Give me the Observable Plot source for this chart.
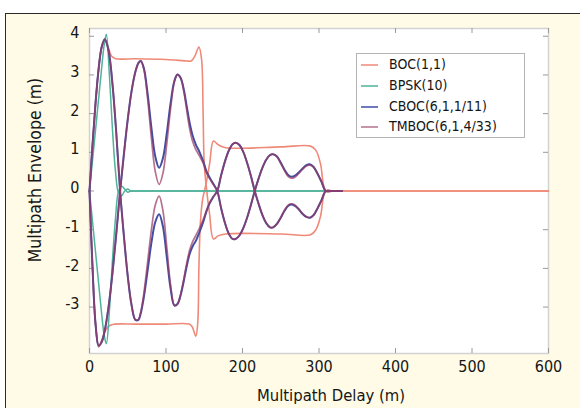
<!DOCTYPE html>
<html><head><meta charset="utf-8">
<script src="https://cdn.jsdelivr.net/npm/d3@7"></script>
<script src="https://cdn.jsdelivr.net/npm/@observablehq/plot@0.6"></script>
<style>
html,body{margin:0;padding:0;background:#fff;width:580px;height:408px;overflow:hidden;}
#panel{position:absolute;left:5px;top:13px;width:600px;height:420px;border:1.5px solid #2a2a2a;background:#fffbe7;box-sizing:border-box;}
#chart{position:absolute;left:0;top:0;}
#legend{position:absolute;left:356px;top:53px;width:169px;height:85px;box-sizing:border-box;border:1px solid #b4b4b4;background:#fff;font-family:"DejaVu Sans Condensed";font-size:14px;color:#151515;}
.row{position:absolute;left:3px;height:20px;line-height:20px;white-space:nowrap;}
.row svg{vertical-align:middle;margin-right:10px;}
</style></head>
<body>
<div id="panel"></div>
<div id="chart"></div>
<div id="legend"></div>
<script>
const seriesNames = ["BOC(1,1)", "BPSK(10)", "CBOC(6,1,1/11)", "TMBOC(6,1,4/33)"];
const seriesColors = ["#ef8a78", "#4fb39a", "#414ea3", "#9a3a62"];
const xTicks = [0, 100, 200, 300, 400, 500, 600];
const yTicks = [-3, -2, -1, 0, 1, 2, 3, 4];

// BOC(1,1)
const bocDelayA = [0,4,8,12,16,20,24,29,34,60,100,128,133,138,143,146.5,148.5,150,153,157,162,168,178,250,289,296,302,309,320,600];
const bocA      = [0,1.21,2.3,3.17,3.73,3.92,3.75,3.48,3.42,3.42,3.40,3.36,3.36,3.5,3.72,3.4,2.0,0.7,0.05,-0.6,-1.24,-1.16,-1.11,-1.11,-1.13,-1.0,-0.65,0,0,0];
const bocDelayB = [0,4,8,12,16,21,27,33,60,100,130,134,139,141.5,143,145,148,152,157,162,168,178,250,289,296,302,309,320,600];
const bocB      = [0,-2.0,-3.46,-4.03,-3.85,-3.6,-3.47,-3.44,-3.44,-3.44,-3.44,-3.5,-3.75,-3.4,-2.0,-0.8,-0.2,0.15,0.7,1.29,1.2,1.12,1.14,1.16,1.05,0.7,0,0,0];

// BPSK(10)
const bpskDelay = [0,4,8,12,16,19,22,26,30,34,38,42,46,50,54,60,315];
const bpskA     = [0,0.8,1.6,2.4,3.2,3.75,4.05,3.0,1.6,0.5,-0.05,-0.12,0,0.05,0,0,0];
const bpskB     = [0,-0.8,-1.6,-2.4,-3.2,-3.7,-3.95,-3.1,-1.8,-0.7,0,0.12,0.05,-0.03,0,0,0];

// CBOC / TMBOC (shared delays)
const dkDelay = [0,4,8,12,16,20,25,30,35,40,45,50,55,60,64,67,71,76,81,86,91,96,101,106,111,115,119,123,127,131,135,139,144,149,153,157,162,167,172,177,182,187,191,196,201,206,211,216,221,226,231,236,240,245,250,255,260,264,268,273,278,283,288,293,298,303,309,316,330];
const cbocA = [0,1.21,2.30,3.17,3.73,3.92,3.62,2.77,1.50,0,-1.17,-2.2,-2.95,-3.33,-3.33,-3.16,-2.75,-2.05,-1.33,-0.80,-0.6,-0.92,-1.70,-2.52,-2.96,-2.92,-2.7,-2.35,-1.95,-1.62,-1.42,-1.29,-1.05,-0.78,-0.52,-0.32,-0.15,0,0.40,0.76,1.04,1.21,1.25,1.19,1.01,0.73,0.39,0,-0.33,-0.62,-0.83,-0.94,-0.94,-0.85,-0.69,-0.51,-0.38,-0.35,-0.375,-0.46,-0.58,-0.665,-0.69,-0.62,-0.45,-0.25,0,0,0];
const cbocB = [0,-2.0,-3.46,-4.0,-3.9,-3.6,-2.98,-2.13,-1.11,0,0.96,1.85,2.58,3.08,3.31,3.36,3.18,2.51,1.62,0.89,0.6,0.85,1.49,2.27,2.85,3.01,2.93,2.65,2.2,1.75,1.42,1.2,1.0,0.75,0.5,0.35,0.18,0,-0.44,-0.82,-1.1,-1.24,-1.24,-1.15,-0.96,-0.69,-0.36,0,0.32,0.6,0.81,0.93,0.95,0.89,0.735,0.55,0.41,0.37,0.39,0.47,0.57,0.66,0.69,0.62,0.45,0.25,0,0,0];
const tmbocA = [0,1.21,2.30,3.17,3.73,3.92,3.62,2.77,1.50,0,-1.17,-2.2,-2.95,-3.33,-3.32,-3.13,-2.65,-1.83,-0.99,-0.36,-0.13,-0.51,-1.44,-2.43,-2.95,-2.92,-2.68,-2.3,-1.88,-1.52,-1.3,-1.15,-0.95,-0.72,-0.5,-0.3,-0.14,0,0.40,0.76,1.04,1.21,1.25,1.19,1.01,0.73,0.39,0,-0.33,-0.62,-0.83,-0.94,-0.94,-0.85,-0.69,-0.49,-0.36,-0.33,-0.355,-0.46,-0.58,-0.665,-0.69,-0.62,-0.45,-0.25,0,0,0];
const tmbocB = [0,-2.0,-3.46,-4.0,-3.9,-3.6,-2.98,-2.13,-1.11,0,0.96,1.85,2.58,3.08,3.31,3.36,3.15,2.38,1.35,0.5,0.17,0.46,1.22,2.13,2.82,3.01,2.93,2.6,2.1,1.6,1.27,1.07,0.9,0.7,0.46,0.32,0.16,0,-0.44,-0.82,-1.1,-1.24,-1.24,-1.15,-0.96,-0.69,-0.36,0,0.32,0.6,0.81,0.93,0.95,0.89,0.71,0.52,0.37,0.33,0.35,0.44,0.55,0.64,0.67,0.62,0.45,0.25,0,0,0];

function rows(delays, values, series, branch) {
  return delays.map((d, i) => ({delay: d, env: values[i], series, branch}));
}
const data = [
  ...rows(bocDelayA, bocA, seriesNames[0], "a"),
  ...rows(bocDelayB, bocB, seriesNames[0], "b"),
  ...rows(bpskDelay, bpskA, seriesNames[1], "a"),
  ...rows(bpskDelay, bpskB, seriesNames[1], "b"),
  ...rows(dkDelay, cbocA, seriesNames[2], "a"),
  ...rows(dkDelay, cbocB, seriesNames[2], "b"),
  ...rows(dkDelay, tmbocA, seriesNames[3], "a"),
  ...rows(dkDelay, tmbocB, seriesNames[3], "b")
];
const widths = [1.6, 1.5, 2.0, 1.7];
const opac = [1, 1, 1, 0.72];

const lineMarks = seriesNames.map((s, i) =>
  Plot.line(data.filter(d => d.series === s), {
    x: "delay", y: "env", z: "branch", stroke: seriesColors[i],
    strokeWidth: widths[i], strokeOpacity: opac[i], curve: "catmull-rom"
  })
);

const plot = Plot.plot({
  width: 580, height: 408,
  marginLeft: 89, marginRight: 32, marginTop: 28, marginBottom: 55,
  style: {background: "transparent", fontFamily: "DejaVu Sans Condensed", fontSize: "16px", color: "#151515"},
  x: {domain: [0, 600]},
  y: {domain: [-4.2, 4.2]},
  marks: [
    Plot.frame({fill: "white", stroke: "#d2d2d2", strokeWidth: 1.5}),
    Plot.tickX(xTicks, {x: d => d, stroke: "#9a9a9a", insetTop: 320}),
    Plot.tickX(xTicks, {x: d => d, stroke: "#9a9a9a", insetBottom: 320}),
    Plot.tickY(yTicks, {y: d => d, stroke: "#9a9a9a", insetRight: 454}),
    Plot.tickY(yTicks, {y: d => d, stroke: "#9a9a9a", insetLeft: 454}),
    ...lineMarks,
    Plot.axisX({ticks: xTicks, tickSize: 0, tickPadding: 7, label: null, tickFormat: d => `${d}`}),
    Plot.axisY({ticks: yTicks, tickSize: 0, tickPadding: 10, label: null, dy: -3, tickFormat: d => `${d}`}),
    Plot.text(["Multipath Delay (m)"], {text: d => d, frameAnchor: "bottom", textAnchor: "middle", dx: 12, dy: 42, lineAnchor: "middle", fontSize: 16.5, fill: "#151515"}),
    Plot.text(["Multipath Envelope (m)"], {text: d => d, frameAnchor: "left", textAnchor: "middle", rotate: -90, dx: -54, dy: -21, lineAnchor: "middle", fontSize: 17.5, fill: "#151515"})
  ]
});
document.getElementById("chart").appendChild(plot);

const legend = document.getElementById("legend");
const rowTops = [0, 21, 41.5, 62];
seriesNames.forEach((s, i) => {
  const r = document.createElement("div");
  r.className = "row";
  r.style.top = rowTops[i] + "px";
  r.innerHTML = `<svg width="19" height="4"><line x1="1" y1="2" x2="18" y2="2" stroke="${seriesColors[i]}" stroke-width="1.5" stroke-opacity="${opac[i]}"/></svg>`;
  r.appendChild(document.createTextNode(s));
  legend.appendChild(r);
});
</script>
</body></html>
